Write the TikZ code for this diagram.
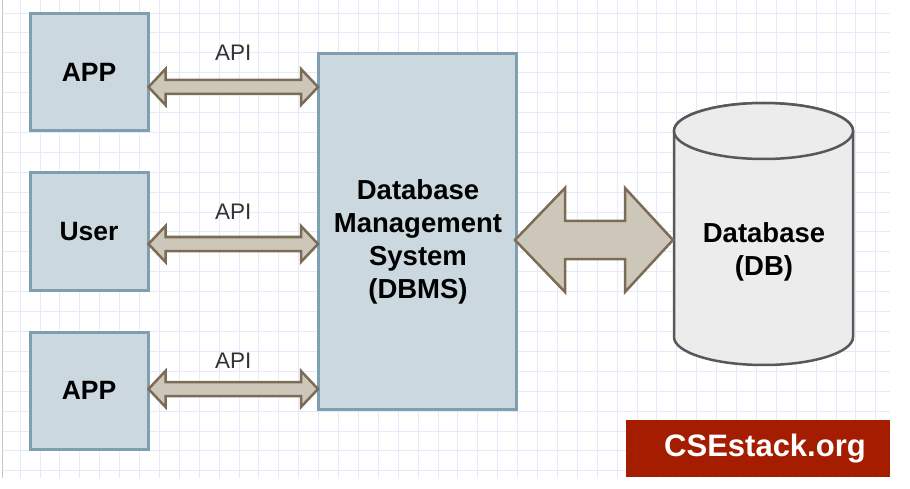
\documentclass[tikz,border=0pt]{standalone}
\usepackage{fontspec}
\setmainfont{Liberation Sans}
\usepackage{xcolor}
\usetikzlibrary{calc}

\definecolor{boxFill}{HTML}{CBD8DF}
\definecolor{boxLine}{HTML}{7F9EB0}
\definecolor{arrowFill}{HTML}{CDC7BA}
\definecolor{arrowLine}{HTML}{7B6D55}
\definecolor{dbFill}{HTML}{ECECEC}
\definecolor{dbLine}{HTML}{585858}
\definecolor{brandRed}{HTML}{A51D00}
\definecolor{gridBlue}{HTML}{E8E8FC}
\definecolor{apiGray}{HTML}{333333}

\begin{document}
\begin{tikzpicture}[
    x=1pt, y=1pt,
    % --- Saját stílusok ---
    box/.style = {draw=#1, line width=3pt, fill=boxFill, text=black,
                  font=\bfseries\fontsize{26.5}{33}\selectfont, align=center}, % téglalap
    link/.style = {draw=#1, line width=2.5pt, fill=arrowFill, line join=miter}, % kettős nyíl
    apiText/.style = {text=#1, font=\fontsize{22.5}{27}\selectfont},            % API felirat
    dbBody/.style = {draw=#1, line width=2.5pt, fill=dbFill},                    % henger
    label/.style = {text=black, font=\bfseries\fontsize{27.5}{33}\selectfont, align=center},
    brand/.style = {fill=#1, text=white, font=\bfseries\fontsize{31}{36}\selectfont},
    gridLine/.style = {color=#1, line width=0.8pt}                               % háttérrács
    ]

    % --- Háttér és rács ---
    \fill[white] (0,0) rectangle (910,488);
    \useasboundingbox (0,0) rectangle (910,488);
    \foreach \i in {0,...,43} {
        \draw[gridLine={gridBlue}] ({20+19.9*\i},10) -- ({20+19.9*\i},488);
    }
    \foreach \i in {0,...,23} {
        \draw[gridLine={gridBlue}] (2,{475-19.9*\i}) -- (890,{475-19.9*\i});
    }
    \draw[gray!45, line width=1pt] (2,10) -- (2,488);

    % --- Dobozok ---
    \node[box={boxLine}, minimum width=118, minimum height=117] (app1) at (89,415.5) {APP};
    \node[box={boxLine}, minimum width=118, minimum height=117] (user) at (89,256.5) {User};
    \node[box={boxLine}, minimum width=118, minimum height=117] (app2) at (89,97.5) {APP};
    \node[box={boxLine}, minimum width=198, minimum height=356] (dbms) at (417.5,256.5) {};
    \node[label] (dbmsText) at (418,246) {Database\\Management\\System\\(DBMS)};

    % --- API nyilak ---
    \foreach \src/\yy/\ly in {app1/401/435, user/244/276, app2/99/127} {
        \coordinate (a) at (\src.east |- 0,\yy);
        \coordinate (b) at (dbms.west |- 0,\yy);
        \coordinate (m) at ($(a)!0.5!(b)$);
        \draw[link={arrowLine}] ($(a)+(-1,0)$) -- ++(17,18) -- ++(0,-11)
            -- ($(b)+(-16,7)$) -- ++(0,11) -- ($(b)+(1,0)$) -- ++(-17,-18) -- ++(0,11)
            -- ($(a)+(16,-7)$) -- ++(0,-11) -- cycle;
        \node[apiText={apiGray}] (api\src) at (m |- 0,\ly) {API};
    }

    % --- Adatbázis (henger) ---
    \coordinate (dbW) at (674,248);
    \draw[dbBody={dbLine}] (674,357) -- (674,151)
        arc[start angle=180, end angle=360, x radius=89.5, y radius=28]
        -- (853,357)
        arc[start angle=0, end angle=180, x radius=89.5, y radius=28] -- cycle;
    \draw[dbBody={dbLine}] (763.5,357) ellipse[x radius=89.5, y radius=28];
    \node[label] (db) at (764,236.5) {Database\\(DB)};

    % --- Nagy kettős nyíl DBMS és DB között ---
    \coordinate (c) at (dbms.east |- dbW);
    \draw[link={arrowLine}] ($(c)+(-3,0)$) -- ++(50,52) -- ++(0,-33)
        -- ($(dbW)+(-49,19)$) -- ++(0,33) -- ($(dbW)+(-1,0)$) -- ++(-48,-52) -- ++(0,33)
        -- ($(c)+(47,-19)$) -- ++(0,-33) -- cycle;

    % --- Felirat ---
    \node[brand={brandRed}, minimum width=264, minimum height=57] (site) at (758,39.5) {\hspace*{14pt}CSEstack.org};
\end{tikzpicture}
\end{document}
